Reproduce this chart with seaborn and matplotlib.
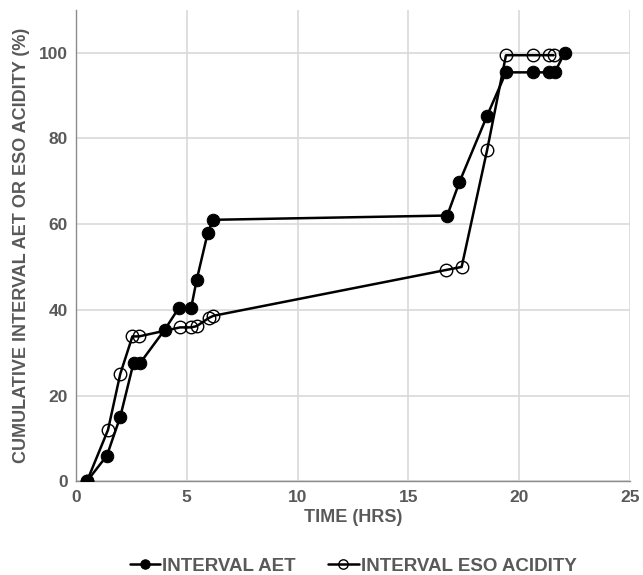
import matplotlib
matplotlib.use("Agg")
import matplotlib.pyplot as plt
import seaborn as sns
import pandas as pd

aet_time = [0.5, 1.4, 2.0, 2.6, 2.9, 4.0, 4.65, 5.2, 5.45, 5.95, 6.2, 16.75, 17.3, 18.55, 19.4, 20.6, 21.35, 21.6, 22.05]
aet_pct = [0, 6, 15, 27.6, 27.6, 35.3, 40.5, 40.5, 47, 58, 61, 62, 69.8, 85.3, 95.4, 95.4, 95.4, 95.4, 100]
eso_time = [0.5, 1.45, 2.0, 2.55, 2.85, 4.7, 5.2, 5.45, 6.0, 6.2, 16.7, 17.4, 18.55, 19.4, 20.6, 21.35, 21.55]
eso_pct = [0, 12, 25, 33.8, 33.8, 35.9, 35.9, 36.2, 38.1, 38.6, 49.3, 50, 77.3, 99.4, 99.4, 99.4, 99.4]

sns.set_theme(style="white")
plt.rcParams['font.family'] = ['Liberation Sans', 'DejaVu Sans']
gray = "#595959"

fig = plt.figure(figsize=(6.43, 5.75), dpi=100)
ax = fig.add_axes([0.118, 0.163, 0.862, 0.82])

df_a = pd.DataFrame({"t": aet_time, "v": aet_pct})
df_e = pd.DataFrame({"t": eso_time, "v": eso_pct})

sns.lineplot(data=df_a, x="t", y="v", ax=ax, color="black", lw=1.8, marker="o",
             markersize=9, markerfacecolor="black", markeredgecolor="black",
             label="INTERVAL AET", sort=False, zorder=3)
sns.lineplot(data=df_e, x="t", y="v", ax=ax, color="black", lw=1.8, marker="o",
             markersize=9, markerfacecolor="none", markeredgecolor="black",
             markeredgewidth=1.0, label="INTERVAL ESO ACIDITY", sort=False, zorder=3)

ax.set_xlim(0, 25)
ax.set_ylim(0, 110)
ax.set_xticks([0, 5, 10, 15, 20, 25])
ax.set_yticks([0, 20, 40, 60, 80, 100])
ax.grid(True, color="#d9d9d9", lw=1.2)
ax.set_axisbelow(True)
for s in ["top", "right"]:
    ax.spines[s].set_visible(False)
for s in ["left", "bottom"]:
    ax.spines[s].set_color("#8c8c8c")
    ax.spines[s].set_linewidth(1.0)
ax.tick_params(axis="both", labelsize=12.5, colors=gray, length=0, pad=6)
for lbl in ax.get_xticklabels() + ax.get_yticklabels():
    lbl.set_fontweight("bold")
ax.set_xlabel("TIME (HRS)", fontsize=13, fontweight="bold", color=gray, labelpad=3)
ax.set_ylabel("CUMULATIVE INTERVAL AET OR ESO ACIDITY (%)", fontsize=13,
              fontweight="bold", color=gray, labelpad=6)

leg = ax.legend(loc="center", bbox_to_anchor=(0.5, -0.18), ncol=2, frameon=False,
                fontsize=13.5, handlelength=1.65, handletextpad=0.1, columnspacing=1.7,
                markerscale=0.75)
for t in leg.get_texts():
    t.set_color(gray)
    t.set_fontweight("bold")

fig.savefig("out.png", dpi=100)
